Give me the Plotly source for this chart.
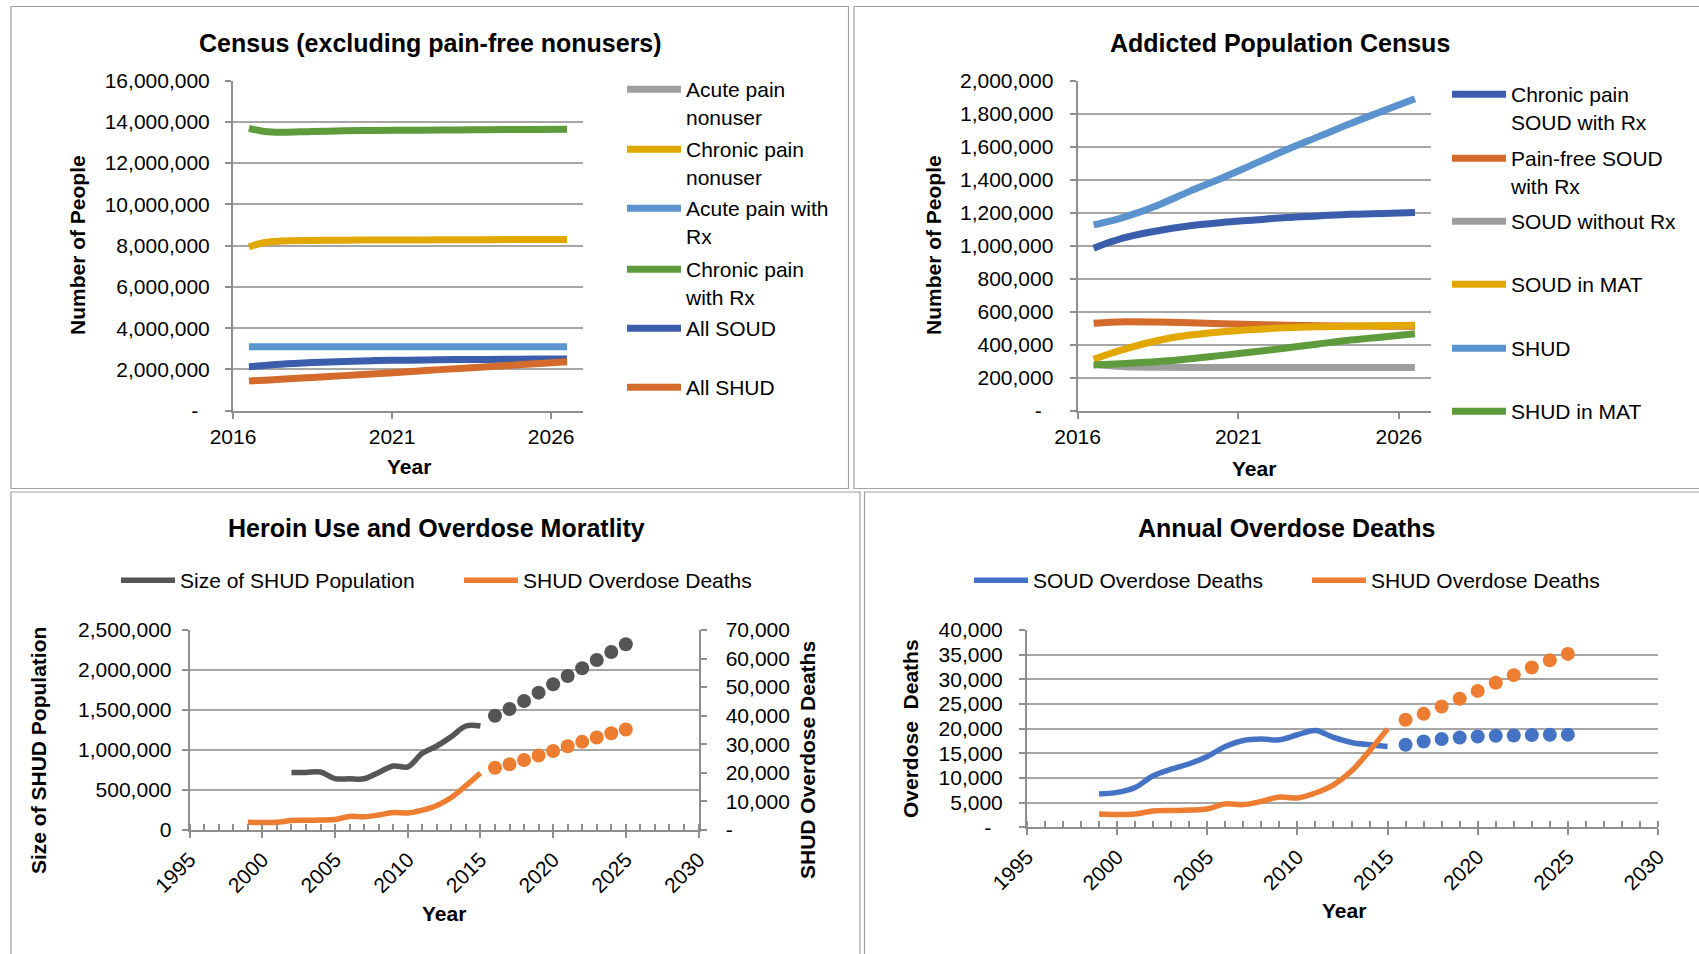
import plotly.graph_objects as go

# ---------------------------------------------------------------- data
# Panel 1 & 2: simulated census, mid-year points
CENSUS_YEARS = [2016.5, 2017.0, 2017.5, 2018.5, 2019.5, 2020.5,
                2021.5, 2022.5, 2023.5, 2024.5, 2025.5, 2026.5]

acute_pain_nonuser = [None] * 12          # above the 16M axis maximum
chronic_pain_nonuser = [7940000, 8150000, 8220000, 8250000, 8260000, 8270000,
                        8270000, 8280000, 8280000, 8290000, 8290000, 8300000]
acute_pain_rx = [3100000, 3100000, 3100000, 3100000, 3100000, 3100000,
                 3100000, 3100000, 3100000, 3100000, 3100000, 3100000]
chronic_pain_rx = [13680000, 13530000, 13490000, 13530000, 13560000, 13580000,
                   13590000, 13600000, 13610000, 13620000, 13630000, 13640000]
all_soud = [2130000, 2190000, 2250000, 2330000, 2390000, 2430000,
            2450000, 2470000, 2480000, 2490000, 2500000, 2500000]
all_shud = [1440000, 1480000, 1520000, 1610000, 1700000, 1790000,
            1890000, 1990000, 2080000, 2180000, 2280000, 2370000]

chronic_soud_rx = [984000, 1020000, 1050000, 1090000, 1120000, 1140000,
                   1155000, 1170000, 1180000, 1190000, 1195000, 1200000]
painfree_soud_rx = [529000, 536000, 539000, 537000, 532000, 527000,
                    522000, 518000, 515000, 513000, 512000, 511000]
soud_without_rx = [283000, 272000, 266000, 263000, 262000, 262000,
                   262000, 262000, 262000, 262000, 262000, 262000]
soud_in_mat = [311000, 345000, 375000, 425000, 458000, 478000,
               492000, 502000, 508000, 512000, 515000, 517000]
shud = [1125000, 1148000, 1175000, 1245000, 1330000, 1410000,
        1495000, 1580000, 1660000, 1740000, 1815000, 1890000]
shud_in_mat = [277000, 281000, 286000, 298000, 315000, 335000,
               357000, 380000, 404000, 428000, 447000, 466000]

# Panel 3 & 4: historical series (lines) and projections (dots)
HIST_YEARS = list(range(1999, 2016))
PROJ_YEARS = list(range(2016, 2026))

shud_pop_hist = [None, None, None, 720000, 720000, 725000, 642000, 640000, 640000,
                 720000, 800000, 790000, 958000, 1050000, 1167000, 1300000, 1300000]
shud_pop_proj = [1429000, 1512000, 1612000, 1717000, 1821000,
                 1925000, 2021000, 2125000, 2225000, 2321000]

shud_deaths_hist = [2700, 2600, 2700, 3300, 3400, 3500, 3700, 4750, 4600,
                    5250, 6150, 5950, 6950, 8600, 11400, 15500, 19950]
shud_deaths_proj = [21800, 23000, 24500, 26050, 27650,
                    29300, 30850, 32400, 33850, 35150]

soud_deaths_hist = [6760, 7080, 8090, 10450, 11800, 12880, 14360, 16400, 17600,
                    17880, 17740, 18760, 19640, 18220, 17200, 16740, 16400]
soud_deaths_proj = [16750, 17400, 17880, 18220, 18420,
                    18550, 18620, 18690, 18760, 18780]

# ---------------------------------------------------------------- style
W, H = 1699, 954
FONT = "Liberation Sans, Arial, sans-serif"
GRID = "#A6A6A6"
AXIS = "#8E8E8E"
ITEM_W = 54

C_GRAY = "#9E9E9E"
C_GOLD = "#E2A800"
C_LBLUE = "#5A93CE"
C_GREEN = "#5E9B3C"
C_DBLUE = "#3A5EAC"
C_DORANGE = "#D46A2B"
C_CHARCOAL = "#555555"
C_ORANGE = "#ED7D31"
C_BLUE = "#4472C4"


def px(x):
    return x / W


def py(y):
    return 1 - y / H


def thousands(vals, zero):
    return [zero if v == 0 else f"{v:,}" for v in vals]


fig = go.Figure()
legends = {}
legend_count = [0]


def new_legend(text_x, line_y):
    legend_count[0] += 1
    key = "legend" if legend_count[0] == 1 else f"legend{legend_count[0]}"
    legends[key] = dict(
        x=px(text_x - ITEM_W - 11), y=py(line_y - 21), xanchor="left", yanchor="top",
        bgcolor="rgba(0,0,0,0)", borderwidth=0, valign="top", itemwidth=ITEM_W,
        font=dict(family=FONT, size=21, color="#000000"),
    )
    return key


def add_line(x, y, name, color, xa, ya, width, text_x, line_y):
    fig.add_trace(go.Scatter(
        x=x, y=y, name=name, mode="lines", xaxis=xa, yaxis=ya,
        line=dict(color=color, width=width, shape="spline"),
        legend=new_legend(text_x, line_y), hoverinfo="x+y",
    ))


# ---------------------------------------------------------------- panel 1
p1 = [("Acute pain<br>nonuser", acute_pain_nonuser, C_GRAY),
      ("Chronic pain<br>nonuser", chronic_pain_nonuser, C_GOLD),
      ("Acute pain with<br>Rx", acute_pain_rx, C_LBLUE),
      ("Chronic pain<br>with Rx", chronic_pain_rx, C_GREEN),
      ("All SOUD", all_soud, C_DBLUE),
      ("All SHUD", all_shud, C_DORANGE)]
p1_rows = [90, 150, 209, 270, 329, 388]
for (name, vals, col), ly in zip(p1, p1_rows):
    add_line(CENSUS_YEARS, vals, name, col, "x", "y", 7, 687, ly)

# ---------------------------------------------------------------- panel 2
p2 = [("Chronic pain<br>SOUD with Rx", chronic_soud_rx, C_DBLUE),
      ("Pain-free SOUD<br>with Rx", painfree_soud_rx, C_DORANGE),
      ("SOUD without Rx", soud_without_rx, C_GRAY),
      ("SOUD in MAT", soud_in_mat, C_GOLD),
      ("SHUD", shud, C_LBLUE),
      ("SHUD in MAT", shud_in_mat, C_GREEN)]
p2_rows = [95, 159, 222, 285, 349, 412]
for (name, vals, col), ly in zip(p2, p2_rows):
    add_line(CENSUS_YEARS, vals, name, col, "x2", "y2", 7, 1512, ly)

# ---------------------------------------------------------------- panel 3
add_line(HIST_YEARS, shud_pop_hist, "Size of SHUD Population", C_CHARCOAL,
         "x3", "y3", 5.5, 181, 581)
fig.add_trace(go.Scatter(x=PROJ_YEARS, y=shud_pop_proj, mode="markers",
                         xaxis="x3", yaxis="y3", showlegend=False,
                         marker=dict(color=C_CHARCOAL, size=14)))
add_line(HIST_YEARS, shud_deaths_hist, "SHUD Overdose Deaths", C_ORANGE,
         "x3", "y5", 5.5, 524, 581)
fig.add_trace(go.Scatter(x=PROJ_YEARS, y=shud_deaths_proj, mode="markers",
                         xaxis="x3", yaxis="y5", showlegend=False,
                         marker=dict(color=C_ORANGE, size=14)))

# ---------------------------------------------------------------- panel 4
add_line(HIST_YEARS, soud_deaths_hist, "SOUD Overdose Deaths", C_BLUE,
         "x4", "y4", 5.5, 1034, 581)
fig.add_trace(go.Scatter(x=PROJ_YEARS, y=soud_deaths_proj, mode="markers",
                         xaxis="x4", yaxis="y4", showlegend=False,
                         marker=dict(color=C_BLUE, size=14)))
add_line(HIST_YEARS, shud_deaths_hist, "SHUD Overdose Deaths", C_ORANGE,
         "x4", "y4", 5.5, 1372, 581)
fig.add_trace(go.Scatter(x=PROJ_YEARS, y=shud_deaths_proj, mode="markers",
                         xaxis="x4", yaxis="y4", showlegend=False,
                         marker=dict(color=C_ORANGE, size=14)))

# ---------------------------------------------------------------- axes
tick_font = dict(family=FONT, size=21, color="#000000")


def y_axis(x0, top, bottom, rng, step, zero, standoff, **kw):
    vals = list(range(0, rng + 1, step))
    d = dict(domain=[py(bottom), py(top)], range=[0, rng], automargin=False,
             tickmode="array", tickvals=vals, ticktext=thousands(vals, zero),
             showgrid=True, gridcolor=GRID, gridwidth=1.6, zeroline=False,
             showline=True, linecolor=AXIS, linewidth=2,
             ticks="outside", ticklen=6, tickcolor=AXIS, tickwidth=1.5,
             ticklabelstandoff=standoff, tickfont=tick_font, fixedrange=True)
    d.update(kw)
    return d


def census_x(left, right, anchor):
    return dict(domain=[px(left), px(right)], range=[2016, 2027], anchor=anchor,
                automargin=False,
                tickmode="array", tickvals=[2016, 2021, 2026], tickformat="d",
                showgrid=False, zeroline=False, showline=True, linecolor=AXIS,
                linewidth=2, ticks="outside", ticklen=6, tickcolor=AXIS,
                tickwidth=1.5, ticklabelstandoff=0, tickfont=tick_font,
                fixedrange=True)


def history_x(left, right, anchor):
    return dict(domain=[px(left), px(right)], range=[1995, 2030], anchor=anchor,
                automargin=False,
                tickmode="linear", tick0=1995, dtick=5, tickformat="d",
                tickangle=-45, showgrid=False, zeroline=False, showline=True,
                linecolor=AXIS, linewidth=2, ticks="outside", ticklen=6,
                tickcolor=AXIS, tickwidth=1.5, ticklabelstandoff=1,
                tickfont=tick_font, fixedrange=True,
                minor=dict(dtick=1, tick0=1995, ticks="inside", ticklen=6,
                           tickcolor=AXIS, tickwidth=1.5, showgrid=False))


DASH0 = "-\u00a0\u00a0"

layout = dict(
    template="none",
    width=W, height=H, margin=dict(l=0, r=0, t=0, b=0, autoexpand=False),
    paper_bgcolor="white", plot_bgcolor="white",
    font=dict(family=FONT, size=21, color="#000000"),
    showlegend=True,
    xaxis=census_x(233, 583, "y"),
    yaxis=y_axis(233, 80.5, 410.7, 16000000, 2000000, DASH0, 11, anchor="x"),
    xaxis2=census_x(1077.6, 1431, "y2"),
    yaxis2=y_axis(1077.6, 80.5, 410.7, 2000000, 200000, DASH0, 12, anchor="x2"),
    xaxis3=history_x(189.7, 698.5, "y3"),
    yaxis3=y_axis(189.7, 630, 830, 2500000, 500000, "0", 6, anchor="x3"),
    yaxis5=y_axis(698.5, 630, 830, 70000, 10000, "-", 15, anchor="x3",
                  overlaying="y3", side="right", showgrid=False),
    xaxis4=history_x(1027, 1658, "y4"),
    yaxis4=y_axis(1027, 630, 827.3, 40000, 5000, DASH0, 12, anchor="x4"),
)
layout.update(legends)

# ---------------------------------------------------------------- text
ann = []


def text(x, y, s, size, angle=0):
    ann.append(dict(x=px(x), y=py(y), xref="paper", yref="paper", text=s,
                    showarrow=False, xanchor="center", yanchor="middle",
                    textangle=angle, font=dict(family=FONT, size=size,
                                               color="#000000")))


text(431, 43, "<b>Census (excluding pain-free nonusers)</b>", 25)
text(1280, 43, "<b>Addicted Population Census</b>", 25)
text(436, 528, "<b>Heroin Use and Overdose Moratlity</b>", 25)
text(1286, 528, "<b>Annual Overdose Deaths</b>", 25)

text(78, 245, "<b>Number of People</b>", 21, -90)
text(934, 245, "<b>Number of People</b>", 21, -90)
text(38, 751, "<b>Size of SHUD Population</b>", 21, -90)
text(807, 760, "<b>SHUD Overdose Deaths</b>", 21, -90)
text(910, 729, "<b>Overdose\u00a0 Deaths</b>", 21, -90)

text(409, 467, "<b>Year</b>", 21)
text(1254, 468, "<b>Year</b>", 21)
text(444, 913, "<b>Year</b>", 21)
text(1344, 910, "<b>Year</b>", 21)
layout["annotations"] = ann

# panel frames
frame = dict(type="rect", xref="paper", yref="paper", layer="below",
             line=dict(color="#A0A0A0", width=1.2), fillcolor="rgba(0,0,0,0)")
layout["shapes"] = [
    dict(frame, x0=px(11), x1=px(848.5), y0=py(488.5), y1=py(6.5)),
    dict(frame, x0=px(854), x1=px(1710), y0=py(488.5), y1=py(6.5)),
    dict(frame, x0=px(11), x1=px(860), y0=py(970), y1=py(492)),
    dict(frame, x0=px(864.5), x1=px(1710), y0=py(970), y1=py(492)),
]

fig.update_layout(**layout)
fig.write_html("out.html")
